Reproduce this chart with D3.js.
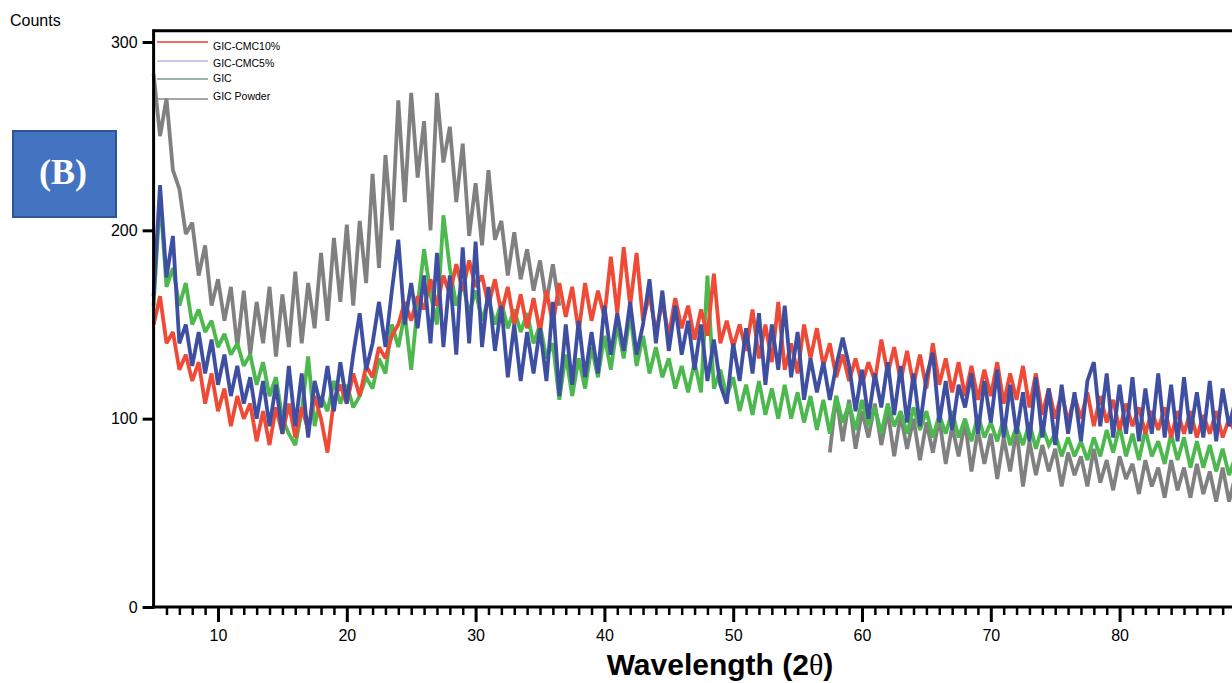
<!DOCTYPE html>
<html><head><meta charset="utf-8">
<script src="https://cdn.jsdelivr.net/npm/d3@7"></script>
<style>
html,body{margin:0;padding:0;background:#fff;overflow:hidden}
svg{display:block;font-family:"Liberation Sans",Arial,sans-serif}
</style></head>
<body>
<svg id="chart" width="1232" height="683"></svg>
<script>
// ---- data (sampled every 0.5 degree 2θ, from 5 to 90) ----
const seriesNames = ["GIC-CMC10%", "GIC-CMC5%", "GIC", "GIC Powder"];
const xStart = 5, xStep = 0.5;
const yTicks = [0, 100, 200, 300];
const xMajorTicks = [10, 20, 30, 40, 50, 60, 70, 80];

const gicPowder = [
 283,250,270,232,222,198,204,176,192,160,
 174,152,170,138,168,134,162,140,170,133,
 166,138,178,140,172,148,188,152,196,162,
 203,160,205,172,230,180,240,200,269,215,
 273,228,258,200,273,236,255,215,246,197,
 225,192,232,195,205,176,199,174,190,168,
 184,162,182,160,null,null,null,null,null,null,
 null,null,null,null,null,null,null,null,null,null,
 null,null,null,null,null,null,null,null,null,null,
 null,null,null,null,null,null,null,null,null,null,
 null,null,null,null,null,82,112,88,110,84,
 104,90,108,86,104,80,102,84,100,78,
 98,82,100,76,96,80,98,72,94,76,
 92,68,90,72,94,64,88,70,86,72,
 84,64,82,70,80,64,84,66,78,62,
 80,68,76,60,78,64,74,58,78,62,
 74,58,76,60,72,56,74,56,70,54,
 68];

const gic = [
 160,218,170,180,160,172,150,158,146,152,
 138,145,134,140,128,134,118,130,112,122,
 100,92,86,104,133,96,112,104,120,108,
 118,106,112,122,116,132,124,150,138,156,
 126,160,190,166,150,208,180,160,172,156,
 168,152,164,150,162,148,158,146,156,140,
 150,132,140,110,134,112,132,116,138,122,
 144,126,150,132,156,128,144,124,138,122,
 132,116,128,114,130,114,176,116,126,112,
 122,104,118,102,120,102,116,100,118,100,
 114,98,112,94,110,92,112,98,108,94,
 110,96,106,92,108,96,104,92,106,94,
 104,90,102,92,104,90,100,88,102,90,
 98,88,100,86,96,86,98,84,96,86,
 92,80,90,80,88,78,90,80,94,82,
 96,80,92,78,94,80,88,76,92,78,
 90,74,88,74,86,72,84,70,80,68,
 76];

const gicCmc10 = [
 150,165,140,146,126,134,120,130,108,124,
 104,116,96,112,100,108,88,104,86,106,
 92,108,90,106,94,112,100,82,110,118,
 108,124,112,128,122,138,132,144,150,162,
 152,165,158,174,160,176,166,182,168,184,
 170,176,160,174,156,170,150,166,148,164,
 146,168,150,172,154,170,146,172,152,168,
 154,186,156,191,160,188,152,166,146,162,
 144,164,148,160,142,158,144,177,140,152,
 138,150,136,158,132,150,130,162,126,140,
 124,150,132,148,128,140,122,134,120,132,
 118,130,120,142,124,138,120,136,118,134,
 116,140,118,132,114,130,112,128,110,126,
 112,130,108,124,110,128,106,124,102,116,
 100,114,98,112,100,114,96,112,98,110,
 94,108,96,106,92,104,94,106,90,104,
 92,104,90,102,92,104,90,100,92,102,
 94];

const gicCmc5 = [
 165,224,175,197,140,150,128,146,124,142,
 118,134,112,128,108,122,100,120,96,118,
 92,128,96,124,90,120,106,128,104,130,
 108,134,156,126,140,162,138,168,195,150,
 172,148,176,140,188,138,176,134,191,140,
 194,138,170,136,160,122,150,120,146,124,
 148,120,162,112,150,118,152,122,146,124,
 160,134,156,136,162,134,150,174,140,168,
 136,160,134,152,126,150,120,142,118,108,
 140,120,148,124,156,118,150,126,160,122,
 146,110,132,114,130,110,128,143,128,104,
 126,100,124,106,130,102,128,98,124,96,
 122,135,98,120,94,118,106,124,92,120,
 98,126,90,118,92,114,88,122,90,116,
 86,118,92,114,88,120,130,96,124,90,
 118,92,122,88,116,92,124,90,118,88,
 122,92,114,90,120,88,116,96,110,94,
 100];

// ---- drawing ----
const svg = d3.select("#chart");
const x = d3.scaleLinear().domain([5, 90]).range([153.6, 1248.4]);
const y = d3.scaleLinear().domain([0, 300]).range([607, 42]);
const yTop = y(306);

const toPts = arr => arr.map((v, i) => ({x: xStart + i * xStep, v}));
const line = d3.line().defined(d => d.v != null).x(d => x(d.x)).y(d => y(d.v));

// draw order: gray, green, red, blue
const plotSeries = [
  {data: gicPowder, color: "#808080"},
  {data: gic, color: "#4cb84e"},
  {data: gicCmc10, color: "#ef4a36"},
  {data: gicCmc5, color: "#3e4fa2"}
];
const g = svg.append("g");
plotSeries.forEach(s => {
  g.append("path").datum(toPts(s.data))
    .attr("d", line).attr("fill", "none")
    .attr("stroke", s.color).attr("stroke-width", 3.8)
    .attr("stroke-linejoin", "miter").attr("stroke-miterlimit", 2.5);
});

// axes frame
svg.append("line").attr("x1", x(5)).attr("x2", 1240).attr("y1", yTop).attr("y2", yTop)
  .attr("stroke", "#000").attr("stroke-width", 3);
svg.append("line").attr("x1", x(5)).attr("x2", x(5)).attr("y1", yTop - 1.5).attr("y2", y(0) + 1.5)
  .attr("stroke", "#000").attr("stroke-width", 3);
svg.append("line").attr("x1", x(5) - 1.5).attr("x2", 1240).attr("y1", y(0)).attr("y2", y(0))
  .attr("stroke", "#000").attr("stroke-width", 3);

// y axis ticks
const yAxis = svg.append("g").attr("transform", `translate(${x(5)},0)`)
  .call(d3.axisLeft(y).tickValues(yTicks).tickSize(11).tickPadding(5));
yAxis.select(".domain").remove();
yAxis.selectAll(".tick line").attr("stroke-width", 3);
yAxis.selectAll(".tick text").attr("font-size", 16).attr("font-family", "Liberation Sans, Arial").attr("fill", "#000");

// x axis minor ticks
const xMinor = d3.range(6, 91).filter(v => v % 10 !== 0);
const xMin = svg.append("g").attr("transform", `translate(0,${y(0)})`)
  .call(d3.axisBottom(x).tickValues(xMinor).tickSize(8).tickFormat(""));
xMin.select(".domain").remove();
xMin.selectAll(".tick line").attr("stroke-width", 2.5);
// x axis major ticks
const xAx = svg.append("g").attr("transform", `translate(0,${y(0)})`)
  .call(d3.axisBottom(x).tickValues(xMajorTicks).tickSize(15).tickPadding(8));
xAx.select(".domain").remove();
xAx.selectAll(".tick line").attr("stroke-width", 3);
xAx.selectAll(".tick text").attr("font-size", 16).attr("font-family", "Liberation Sans, Arial").attr("fill", "#000");

// axis titles
svg.append("text").attr("x", 10).attr("y", 26).attr("font-size", 16).text("Counts");
const xt = svg.append("text").attr("x", 720).attr("y", 675).attr("text-anchor", "middle")
  .attr("font-size", 30).attr("font-weight", "bold");
xt.append("tspan").text("Wavelength (2");
xt.append("tspan").attr("font-family", "Liberation Serif, serif").attr("font-weight", "normal").text("θ");
xt.append("tspan").text(")");

// legend
const legendColors = ["#ee3b30", "#b4b4e4", "#7a9a88", "#8a8a8a"];
const legendY = [42, 61, 79, 99];
const legendTextY = [50, 67, 82, 100];
seriesNames.forEach((n, i) => {
  svg.append("line").attr("x1", 157).attr("x2", 208).attr("y1", legendY[i]).attr("y2", legendY[i])
    .attr("stroke", legendColors[i]).attr("stroke-width", 1.6);
  svg.append("text").attr("x", 213).attr("y", legendTextY[i]).attr("font-size", 10.5).text(n);
});

// panel label
svg.append("rect").attr("x", 13).attr("y", 131).attr("width", 103).attr("height", 86)
  .attr("fill", "#4473c1").attr("stroke", "#2f5597").attr("stroke-width", 2);
svg.append("text").attr("x", 63).attr("y", 184).attr("text-anchor", "middle")
  .attr("font-family", "Liberation Serif, Times New Roman, serif").attr("font-weight", "bold")
  .attr("font-size", 36).attr("fill", "#fff").text("(B)");
</script>
</body></html>
